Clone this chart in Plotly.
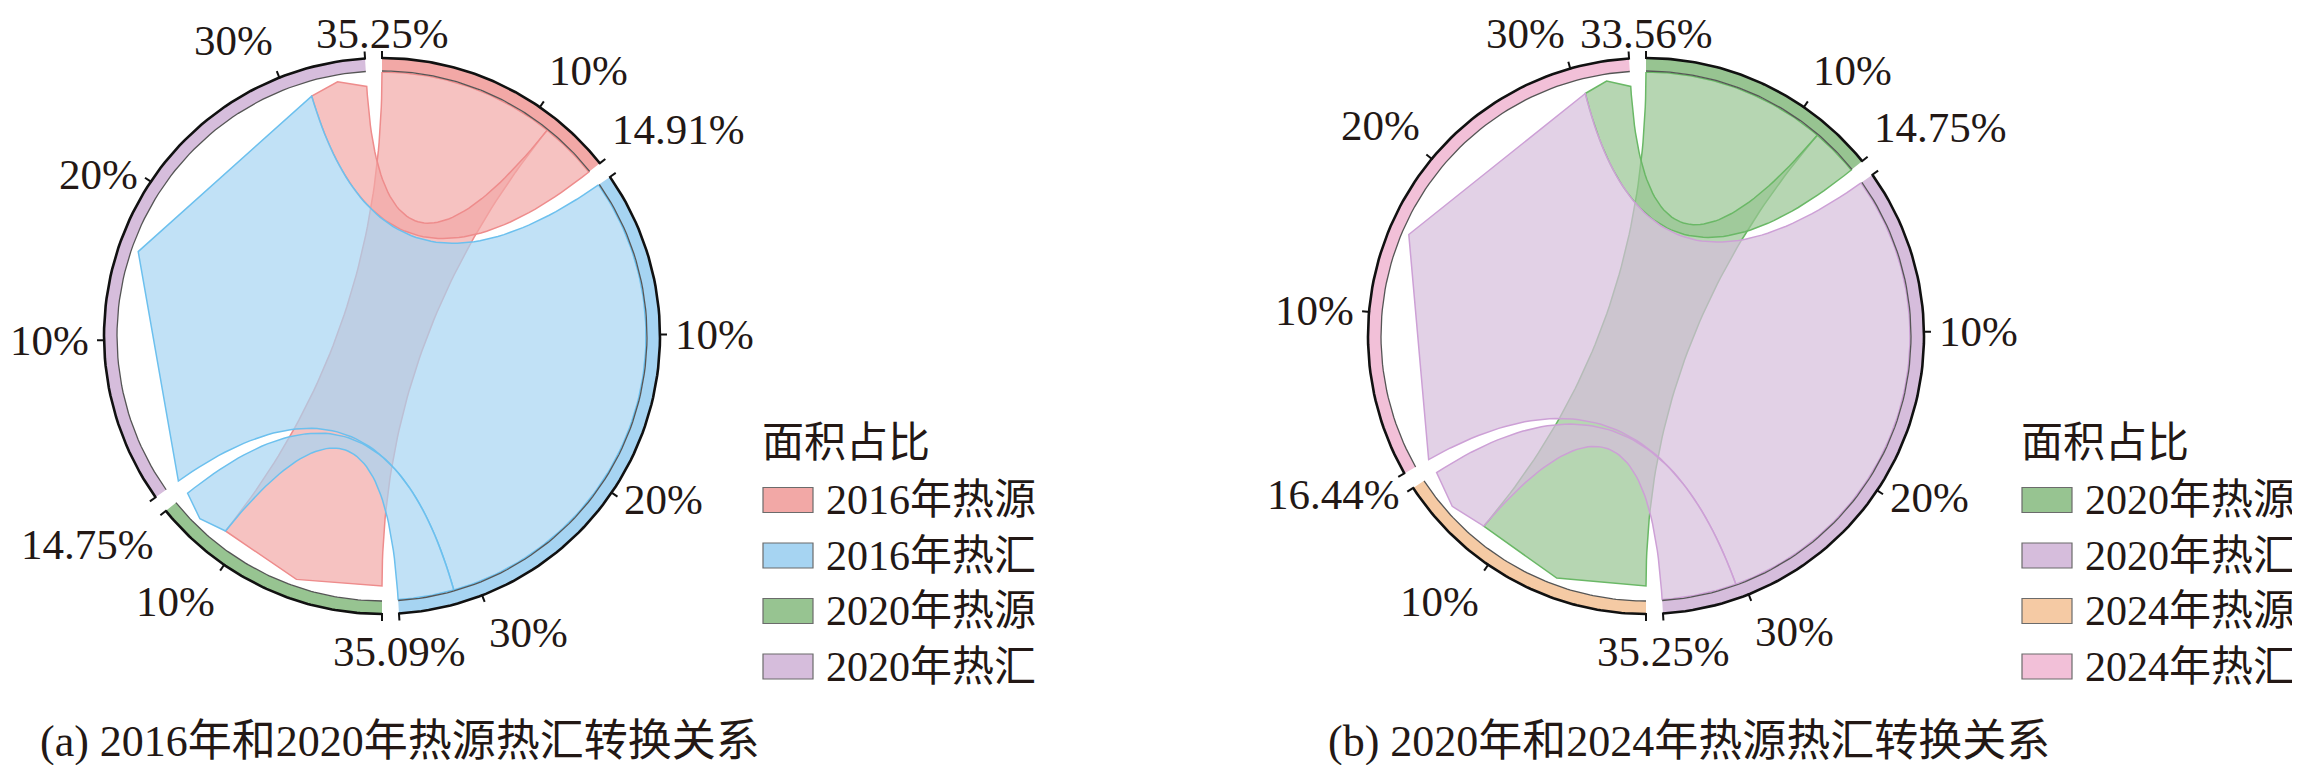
import numpy as np
import plotly.graph_objects as go

# ---------------- data ----------------
seg_names_a = ["2016年热源", "2016年热汇", "2020年热源", "2020年热汇"]
seg_vals_a = [14.91, 35.09, 14.75, 35.25]
flow_src_a = [0, 0, 1, 1]
flow_tgt_a = [2, 3, 2, 3]
flow_vals_a = [11.2, 3.71, 3.55, 31.54]

seg_names_b = ["2020年热源", "2020年热汇", "2024年热源", "2024年热汇"]
seg_vals_b = [14.75, 35.25, 16.44, 33.56]
flow_src_b = [0, 0, 1, 1]
flow_tgt_b = [2, 3, 2, 3]
flow_vals_b = [11.7, 3.05, 4.74, 30.51]

tick_vals = [10, 20, 30]
tick_labels = ["10%", "20%", "30%"]

captions = ["(a) 2016年和2020年热源热汇转换关系", "(b) 2020年和2024年热源热汇转换关系"]
legend_title = "面积占比"

# ---------------- style ----------------
colors_a = ["#F2A8A6", "#A6D4F2", "#97C491", "#D6BDDC"]
edge_a = ["#EE8C8C", "#6CC0EE", "#6AB866", "#CDA0D6"]
colors_b = ["#97C491", "#D6BDDC", "#F5CAA4", "#F2C0D8"]
edge_b = ["#6AB866", "#CDA0D6", "#EBA874", "#E79CC0"]

FAMILY = "Liberation Serif, 'Noto Sans CJK SC', serif"
TXT = "#231815"
FONT_LAB = dict(family=FAMILY, size=43, color=TXT)
FONT_LEG = dict(family=FAMILY, size=42, color=TXT)
FONT_CAP = dict(family=FAMILY, size=44, color=TXT)
W, H = 2300, 765
CENTERS = [(374, 328), (1638, 328)]
LEG_X = [381, 376]        # legend box left edge, relative to circle centre
CAP_X = [18, 43]          # caption centre, relative to circle centre
GAP = 3.5
R_OUT, R_IN = 278, 265
R_SRC, R_TGT, R_MID = 264, 250, 258
TICK_LEN = 7
R_LAB = 291


def hex_rgba(h, a):
    h = h.lstrip("#")
    return "rgba(%d,%d,%d,%.2f)" % (int(h[0:2], 16), int(h[2:4], 16), int(h[4:6], 16), a)


def pt(theta, r):
    t = np.radians(theta)
    return r * np.sin(t), r * np.cos(t)


def arc(t0, t1, r, n=80):
    th = np.linspace(t0, t1, n)
    x, y = pt(th, r)
    return list(x), list(y)


def bezier(p0, p2, n=60):
    t = np.linspace(0, 1, n)
    x = (1 - t) ** 2 * p0[0] + t ** 2 * p2[0]
    y = (1 - t) ** 2 * p0[1] + t ** 2 * p2[1]
    return list(x), list(y)


fig = go.Figure()
annotations = []
shapes = []


def draw_panel(k, names, vals, fsrc, ftgt, fvals, colors, edges):
    xa = "x" if k == 0 else "x2"
    ya = "y" if k == 0 else "y2"
    cy = CENTERS[k][1]
    n = len(vals)
    K = (360 - n * GAP) / sum(vals)
    starts = [sum(vals[:i]) * K + i * GAP for i in range(n)]

    def ang(i, p):
        return starts[i] + p * K

    # link positions: within each segment, sorted by value descending
    src_pos, tgt_pos = {}, {}
    for i in range(n):
        outs = sorted([j for j in range(len(fvals)) if fsrc[j] == i], key=lambda j: -fvals[j])
        c = 0.0
        for j in outs:
            src_pos[j] = (c, c + fvals[j])
            c += fvals[j]
        ins = sorted([j for j in range(len(fvals)) if ftgt[j] == i], key=lambda j: -fvals[j])
        c = 0.0
        for j in ins:
            tgt_pos[j] = (c, c + fvals[j])
            c += fvals[j]

    # ribbons, drawn in source order
    order = sorted(range(len(fvals)), key=lambda j: (fsrc[j], -fvals[j]))
    for j in order:
        s, t = fsrc[j], ftgt[j]
        a0, a1 = ang(s, src_pos[j][0]), ang(s, src_pos[j][1])
        b0, b1 = ang(t, tgt_pos[j][0]), ang(t, tgt_pos[j][1])
        xs, ys = arc(a0, a1, R_SRC)
        bx, by = bezier(pt(a1, R_SRC), pt(b0, R_TGT))
        xs += bx; ys += by
        for th, rr in [((b0 + b1) / 2, R_MID), (b1, R_TGT)]:
            px, py = pt(th, rr)
            xs.append(px); ys.append(py)
        bx, by = bezier(pt(b1, R_TGT), pt(a0, R_SRC))
        xs += bx; ys += by
        fig.add_trace(go.Scatter(x=xs, y=ys, mode="lines", fill="toself",
                                 fillcolor=hex_rgba(colors[s], 0.7),
                                 line=dict(color=edges[s], width=1.5),
                                 name=names[s] + "→" + names[t],
                                 hoverinfo="skip", showlegend=False, xaxis=xa, yaxis=ya))

    # bands, ticks and labels
    for i in range(n):
        t0, t1 = ang(i, 0), ang(i, vals[i])
        ox, oy = arc(t0, t1, R_OUT)
        ix, iy = arc(t1, t0, R_IN)
        fig.add_trace(go.Scatter(x=ox + ix + [ox[0]], y=oy + iy + [oy[0]], mode="lines",
                                 fill="toself", fillcolor=colors[i], line=dict(width=0),
                                 name=names[i],
                                 hoverinfo="skip", showlegend=False, xaxis=xa, yaxis=ya))
        fig.add_trace(go.Scatter(x=ix, y=iy, mode="lines", line=dict(color="#555555", width=1.3),
                                 hoverinfo="skip", showlegend=False, xaxis=xa, yaxis=ya))
        fig.add_trace(go.Scatter(x=ox, y=oy, mode="lines", line=dict(color="#111111", width=2.6),
                                 hoverinfo="skip", showlegend=False, xaxis=xa, yaxis=ya))
        tpos = [0.0] + [v for v in tick_vals if v < vals[i]] + [vals[i]]
        tx, ty = [], []
        for p in tpos:
            x0, y0 = pt(ang(i, p), R_OUT - 1)
            x1, y1 = pt(ang(i, p), R_OUT + TICK_LEN)
            tx += [x0, x1, None]; ty += [y0, y1, None]
        fig.add_trace(go.Scatter(x=tx, y=ty, mode="lines", line=dict(color="#111111", width=2),
                                 hoverinfo="skip", showlegend=False, xaxis=xa, yaxis=ya))

        labs = [(ang(i, v), lab) for v, lab in zip(tick_vals, tick_labels) if v < vals[i]]
        end_th = ang(i, vals[i])
        if np.cos(np.radians(end_th)) > 0.9:      # label of the top gap sits over the gap end
            end_th += GAP
        labs.append((end_th, "%.2f%%" % vals[i]))
        for th, lab in labs:
            s_, c_ = np.sin(np.radians(th)), np.cos(np.radians(th))
            xan = "left" if s_ > 0.25 else ("right" if s_ < -0.25 else "center")
            yan = "bottom" if c_ > 0.6 else ("top" if c_ < -0.6 else "middle")
            lx, ly = pt(th, R_LAB)
            if yan == "bottom" and ly + 50 > cy:   # keep the text inside the picture
                ly, yan = cy, "top"
            annotations.append(dict(x=lx, y=ly, xref=xa, yref=ya, text=lab, showarrow=False,
                                    xanchor=xan, yanchor=yan, font=FONT_LAB))

    # legend
    bx0 = LEG_X[k]
    annotations.append(dict(x=bx0 - 3, y=-107, xref=xa, yref=ya, text=legend_title, showarrow=False,
                            xanchor="left", yanchor="middle", font=FONT_LEG))
    for i in range(n):
        yc = -164 - 55.5 * i
        shapes.append(dict(type="rect", xref=xa, yref=ya, x0=bx0, x1=bx0 + 50, y0=yc - 12.5, y1=yc + 12.5,
                           fillcolor=colors[i], line=dict(color="#6b6b6b", width=1.2)))
        annotations.append(dict(x=bx0 + 61, y=yc, xref=xa, yref=ya, text=names[i], showarrow=False,
                                xanchor="left", yanchor="middle", font=FONT_LEG))
    # caption
    annotations.append(dict(x=CAP_X[k], y=-405, xref=xa, yref=ya, text=captions[k],
                            showarrow=False, xanchor="center", yanchor="middle", font=FONT_CAP))


draw_panel(0, seg_names_a, seg_vals_a, flow_src_a, flow_tgt_a, flow_vals_a, colors_a, edge_a)
draw_panel(1, seg_names_b, seg_vals_b, flow_src_b, flow_tgt_b, flow_vals_b, colors_b, edge_b)

cx0, cy0 = CENTERS[0]
cx1, cy1 = CENTERS[1]
ax_common = dict(visible=False, showgrid=False, zeroline=False, fixedrange=True)
fig.update_layout(
    width=W, height=H, margin=dict(l=0, r=0, t=0, b=0),
    paper_bgcolor="white", plot_bgcolor="rgba(0,0,0,0)",
    showlegend=False,
    xaxis=dict(domain=[0, 0.5], range=[-cx0, W / 2 - cx0], **ax_common),
    yaxis=dict(domain=[0, 1], range=[cy0 - H, cy0], **ax_common),
    xaxis2=dict(domain=[0.5, 1], range=[W / 2 - cx1, W - cx1], anchor="y2", **ax_common),
    yaxis2=dict(domain=[0, 1], range=[cy1 - H, cy1], anchor="x2", **ax_common),
    annotations=annotations, shapes=shapes,
)
fig.write_html("out.html")
